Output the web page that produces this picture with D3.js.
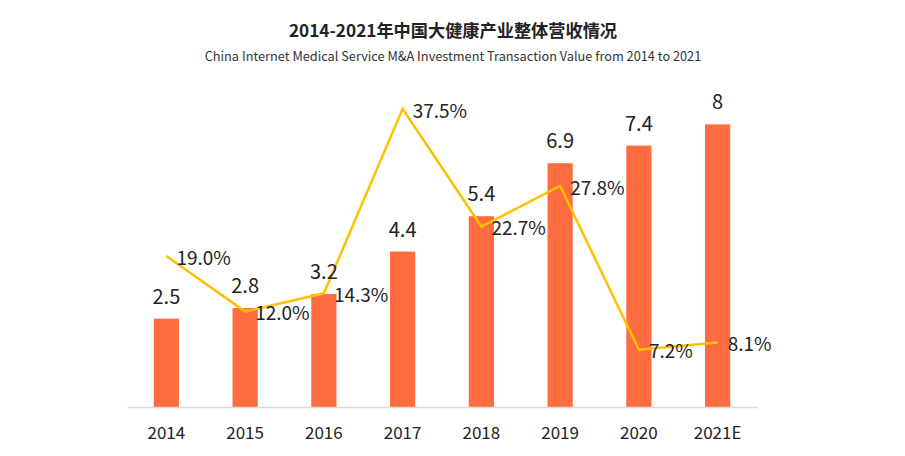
<!DOCTYPE html>
<html><head><meta charset="utf-8">
<script src="https://cdn.jsdelivr.net/npm/d3@7"></script>
<style>body{margin:0;background:#fff}svg{display:block}</style>
</head><body>
<script>
const categories = ["2014","2015","2016","2017","2018","2019","2020","2021E"];
const revenue = [2.5,2.8,3.2,4.4,5.4,6.9,7.4,8];
const revenueLabels = ["2.5","2.8","3.2","4.4","5.4","6.9","7.4","8"];
const growth = [19.0,12.0,14.3,37.5,22.7,27.8,7.2,8.1];
const growthLabels = ["19.0%","12.0%","14.3%","37.5%","22.7%","27.8%","7.2%","8.1%"];
const title = "2014-2021年中国大健康产业整体营收情况";
const subtitle = "China Internet Medical Service M&A Investment Transaction Value from 2014 to 2021";

const W=905,H=456;
const font = "'Noto Sans CJK SC','Noto Sans',sans-serif";
const svg = d3.select("body").append("svg").attr("width",W).attr("height",H);

const x = d3.scaleBand().domain(categories).range([127,757]).paddingInner(0.68).paddingOuter(0.34);
const yBar = d3.scaleLinear().domain([0,9]).range([407,89]);
const yLine = d3.scaleLinear().domain([0,40]).range([407,89]);

svg.append("text").attr("x",453).attr("y",36.5).attr("text-anchor","middle")
  .attr("font-family",font).attr("font-weight","bold").attr("font-size",17.2).attr("fill","#222").text(title);
svg.append("text").attr("x",453).attr("y",61).attr("text-anchor","middle")
  .attr("font-family",font).attr("font-size",12.75).attr("fill","#333").text(subtitle);

svg.selectAll("rect.bar").data(revenue).join("rect").attr("class","bar")
  .attr("x",(d,i)=>x(categories[i])).attr("width",x.bandwidth())
  .attr("y",d=>yBar(d)).attr("height",d=>yBar(0)-yBar(d)).attr("fill","#FF6C40");

const xAxis = svg.append("g").attr("transform","translate(0,407)").call(d3.axisBottom(x).tickSize(0).tickPadding(20));
xAxis.select(".domain").attr("stroke","#d9d9d9").attr("stroke-width",1.5);
xAxis.selectAll("text").attr("font-family",font).attr("font-size",17).attr("fill","#222");

const cx = c => x(c)+x.bandwidth()/2;
svg.append("path").datum(growth)
  .attr("d",d3.line().x((d,i)=>cx(categories[i])).y(d=>yLine(d)))
  .attr("fill","none").attr("stroke","#FFC000").attr("stroke-width",2.5);

svg.selectAll("text.bl").data(revenue).join("text").attr("class","bl")
  .attr("x",(d,i)=>cx(categories[i])).attr("y",d=>yBar(d)-22).attr("dy","0.35em")
  .attr("text-anchor","middle").attr("font-family",font).attr("font-size",20).attr("fill","#222")
  .text((d,i)=>revenueLabels[i]);

svg.selectAll("text.gl").data(growth).join("text").attr("class","gl")
  .attr("x",(d,i)=>cx(categories[i])+10).attr("y",d=>yLine(d)+2).attr("dy","0.35em")
  .attr("text-anchor","start").attr("font-family",font).attr("font-size",19).attr("fill","#222")
  .text((d,i)=>growthLabels[i]);
</script>
</body></html>
